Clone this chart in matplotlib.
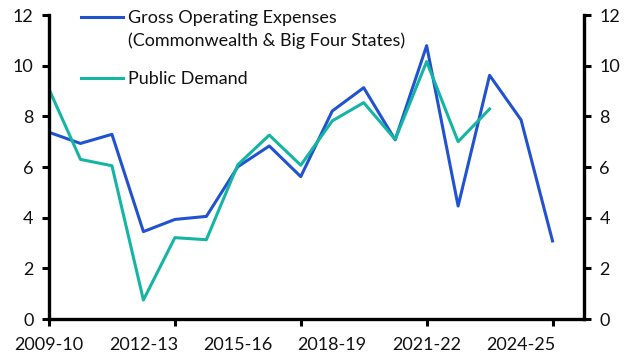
import matplotlib
matplotlib.use("Agg")
import matplotlib.pyplot as plt
from matplotlib.ticker import FixedLocator, NullFormatter
from matplotlib.lines import Line2D

plt.rcParams['font.family'] = ['Lato', 'DejaVu Sans']

years = ["2009-10", "2010-11", "2011-12", "2012-13", "2013-14", "2014-15", "2015-16",
         "2016-17", "2017-18", "2018-19", "2019-20", "2020-21", "2021-22", "2022-23",
         "2023-24", "2024-25", "2025-26"]
gross_opex = [7.37, 6.93, 7.29, 3.45, 3.93, 4.05, 6.01, 6.83, 5.62, 8.21, 9.13, 7.07,
              10.79, 4.46, 9.62, 7.86, 3.08]
public_demand = [9.07, 6.30, 6.05, 0.75, 3.21, 3.13, 6.09, 7.26, 6.07, 7.82, 8.54, 7.09,
                 10.16, 7.00, 8.29]
label_years = ["2009-10", "2012-13", "2015-16", "2018-19", "2021-22", "2024-25"]
y_ticks = [0, 2, 4, 6, 8, 10, 12]

blue = '#2152d0'
teal = '#15b5a3'
FS = 13

fig = plt.figure(figsize=(6.34, 3.58), dpi=100)
ax = fig.add_axes([49/634, 1-319/358, (584-49)/634, (319-15)/358])

x1 = list(range(len(gross_opex)))
x2 = list(range(len(public_demand)))
l1, = ax.plot(x1, gross_opex, color=blue, lw=2.2)
l2, = ax.plot(x2, public_demand, color=teal, lw=2.2)

ax.set_xlim(0, len(years))
ax.set_ylim(0, 12)

# labels every 3 years (no marks), tick marks every 4 years
ax.xaxis.remove_overlapping_locs = False
lab_pos = [years.index(y) for y in label_years]
ax.xaxis.set_major_locator(FixedLocator(lab_pos))
ax.set_xticklabels(label_years)
ax.xaxis.set_minor_locator(FixedLocator([0, 4, 8, 12, 16]))
ax.tick_params(axis='x', which='minor', direction='out', length=5, width=2.2)
ax.tick_params(axis='x', which='major', length=0, pad=13, labelsize=FS, labelcolor='#111111')

ax.set_yticks(y_ticks)
ax.tick_params(axis='y', which='major', direction='out', length=5, width=2.2,
               labelsize=FS, left=True, right=True, labelleft=True, labelright=True,
               pad=6, labelcolor='#111111')

ax.spines['top'].set_visible(False)
for s in ['left', 'right', 'bottom']:
    ax.spines[s].set_linewidth(2.4)
    ax.spines[s].set_color('black')

blank = Line2D([], [], color='none')
common = dict(frameon=False, fontsize=FS, handlelength=2.35, handletextpad=0.25,
              borderaxespad=0, borderpad=0, bbox_transform=fig.transFigure, loc='upper left')
leg1 = ax.legend([l1, blank], ["Gross Operating Expenses", "(Commonwealth & Big Four States)"],
                 bbox_to_anchor=(81/634, 1-10/358), labelspacing=0.38, **common)
for t in leg1.get_texts():
    t.set_color('#111111')
ax.add_artist(leg1)
leg2 = ax.legend([l2], ["Public Demand"], bbox_to_anchor=(81/634, 1-71/358), **common)
for t in leg2.get_texts():
    t.set_color('#111111')

fig.savefig("out.png", dpi=100)
